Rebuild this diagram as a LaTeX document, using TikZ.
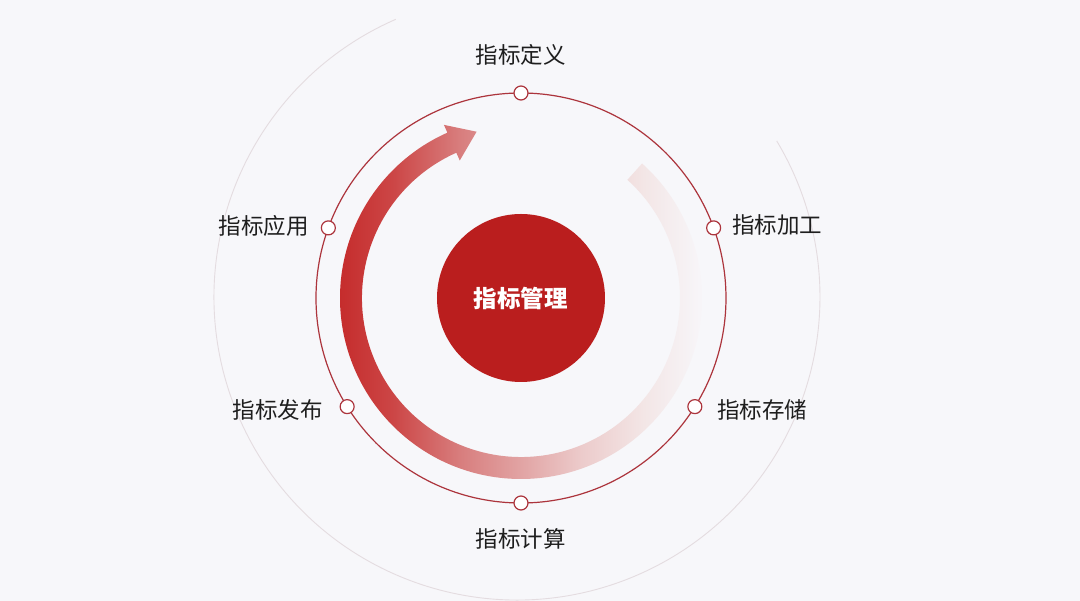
\documentclass[tikz,border=0pt]{standalone}
\usepackage{fontspec}
\usetikzlibrary{calc}
\setmainfont{Noto Sans CJK SC}
\definecolor{bgc}{HTML}{F7F7FA}
\definecolor{ringc}{HTML}{AC343C}
\definecolor{discc}{HTML}{BA1E1E}
\definecolor{outerc}{HTML}{E4DCE0}
\definecolor{txtc}{HTML}{1E1E1E}
\definecolor{ca}{HTML}{C42828}
\definecolor{cb}{HTML}{CC4646}
\definecolor{cc}{HTML}{D87E7E}
\definecolor{cd}{HTML}{E1A2A2}
\definecolor{ce}{HTML}{ECCBCB}
\definecolor{cf}{HTML}{F3E6E6}
\definecolor{cg}{HTML}{F7F5F8}
\pgfdeclarehorizontalshading{arcshade}{100bp}{color(0bp)=(ca); color(25bp)=(ca); color(33bp)=(cb); color(41.6bp)=(cc); color(49bp)=(cd); color(57bp)=(ce); color(65bp)=(cf); color(72bp)=(cg); color(100bp)=(cg)}
\tikzset{
  dot/.style={circle,draw=ringc,fill=white,line width=1.2pt,minimum size=14pt,inner sep=0pt},
  lbl/.style={font=\fontsize{22.5}{26}\selectfont,text=txtc,inner sep=0pt},
}
\begin{document}
\begin{tikzpicture}[x=1pt,y=1pt]
\useasboundingbox (-521,-303) rectangle (559,298);
\fill[bgc] (-521,-303) rectangle (559,298);
% faint outer arc
\draw[outerc,line width=0.9pt] ($(-4,1)+(113.6:303pt)$) arc[start angle=113.6,end angle=391,radius=303pt];
% gradient arrow
\path[shading=arcshade]
  (48:181pt) arc[start angle=48,end angle=-246,radius=181pt]
  -- (114:189.5pt) -- (-44.4,166.3) -- (114:150.5pt) -- (114:159pt)
  arc[start angle=-246,end angle=48,radius=159pt] -- cycle;
% main ring
\draw[ringc,line width=1.2pt] (0,0) circle[radius=205pt];
% center disc
\node[circle,fill=discc,minimum size=168pt,inner sep=0pt,text=white,font=\fontsize{23.5}{27}\selectfont\bfseries] (core) at (0,0) {指标管理};
% dots
\node[dot] (d1) at (90:205pt) {};
\node[dot] (d2) at (20:205pt) {};
\node[dot] (d3) at (-32:205pt) {};
\node[dot] (d4) at (-90:205pt) {};
\node[dot] (d5) at (212:205pt) {};
\node[dot] (d6) at (160:205pt) {};
% labels
\node[lbl] (l1) at (0,243) {指标定义};
\node[lbl,anchor=west] (l2) at (211,73) {指标加工};
\node[lbl,anchor=west] (l3) at (196,-112) {指标存储};
\node[lbl] (l4) at (0,-241) {指标计算};
\node[lbl,anchor=east] (l5) at (-198,-112) {指标发布};
\node[lbl,anchor=east] (l6) at (-212,72) {指标应用};
\end{tikzpicture}
\end{document}
